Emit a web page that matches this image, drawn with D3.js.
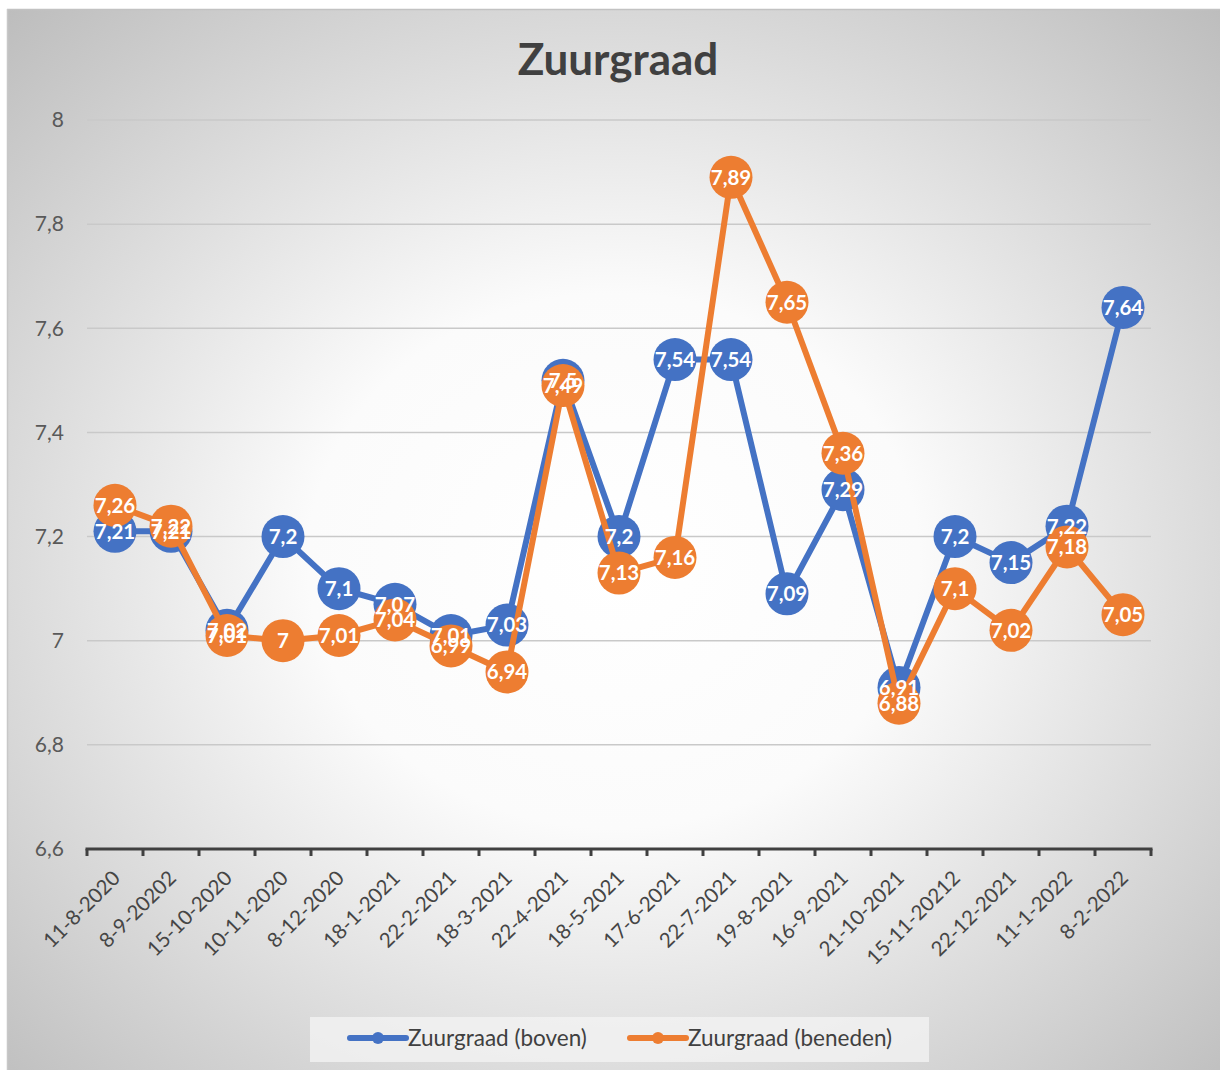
<!DOCTYPE html>
<html><head><meta charset="utf-8">
<script src="https://cdn.jsdelivr.net/npm/d3@7"></script>
<style>body{margin:0;background:#fff}</style>
</head><body><svg id="c" width="1220" height="1070"></svg>
<script>
const title = "Zuurgraad";
const categories = ["11-8-2020","8-9-20202","15-10-2020","10-11-2020","8-12-2020","18-1-2021","22-2-2021","18-3-2021","22-4-2021","18-5-2021","17-6-2021","22-7-2021","19-8-2021","16-9-2021","21-10-2021","15-11-20212","22-12-2021","11-1-2022","8-2-2022"];
const boven   = [7.21,7.21,7.02,7.2,7.1,7.07,7.01,7.03,7.5,7.2,7.54,7.54,7.09,7.29,6.91,7.2,7.15,7.22,7.64];
const beneden = [7.26,7.22,7.01,7,7.01,7.04,6.99,6.94,7.49,7.13,7.16,7.89,7.65,7.36,6.88,7.1,7.02,7.18,7.05];
const seriesNames = ["Zuurgraad (boven)","Zuurgraad (beneden)"];
const seriesColors = ["#4472C4","#ED7D31"];
const yTicks = [6.6,6.8,7,7.2,7.4,7.6,7.8,8];

const fmt = v => String(v).replace(".", ",");
const FONT = "Lato, 'Open Sans', sans-serif";
const svg = d3.select("#c");

// background
const defs = svg.append("defs");
const rg = defs.append("radialGradient").attr("id","bg")
  .attr("cx","50%").attr("cy","52%").attr("r","72%");
rg.append("stop").attr("offset","0%").attr("stop-color","#ffffff");
rg.append("stop").attr("offset","35%").attr("stop-color","#fbfbfb");
rg.append("stop").attr("offset","100%").attr("stop-color","#bdbdbd");
svg.append("rect").attr("x",7).attr("y",9).attr("width",1213).attr("height",1061)
  .attr("fill","url(#bg)");
svg.append("line").attr("x1",7).attr("x2",1220).attr("y1",9.5).attr("y2",9.5)
  .attr("stroke","#c2c2c2").attr("stroke-width",1.5);
svg.append("line").attr("x1",7.5).attr("x2",7.5).attr("y1",9).attr("y2",1070)
  .attr("stroke","#c8c8c8").attr("stroke-width",1.5);

// scales
const x = d3.scaleBand().domain(categories).range([87,1151]);
const y = d3.scaleLinear().domain([6.6,8]).range([849,120]);
const cx = c => x(c) + x.bandwidth()/2;

// title
svg.append("text").attr("x",618).attr("y",75).attr("text-anchor","middle")
  .attr("font-family",FONT).attr("font-weight","bold").attr("font-size",44)
  .attr("fill","#404040").text(title);

// gridlines
svg.append("g").selectAll("line").data(yTicks.filter(t => t > 6.6)).join("line")
  .attr("x1",87).attr("x2",1151).attr("y1",d=>y(d)).attr("y2",d=>y(d))
  .attr("stroke","#c9c9c9").attr("stroke-width",1.5);

// y axis labels
const yAxis = d3.axisLeft(y).tickValues(yTicks).tickFormat(fmt).tickSize(0).tickPadding(0);
const yg = svg.append("g").attr("transform","translate(64,0)").call(yAxis);
yg.select(".domain").remove();
yg.selectAll("text").attr("font-family",FONT).attr("font-size",21).attr("fill","#595959");

// x axis
const xg = svg.append("g");
xg.append("line").attr("x1",85.5).attr("x2",1152.5).attr("y1",y(6.6)).attr("y2",y(6.6))
  .attr("stroke","#404040").attr("stroke-width",3);
const bounds = categories.map(c => x(c)).concat([x.range()[1]]);
xg.selectAll("line.tick").data(bounds).join("line").attr("class","tick")
  .attr("x1",d=>d).attr("x2",d=>d).attr("y1",y(6.6)).attr("y2",y(6.6)+7)
  .attr("stroke","#404040").attr("stroke-width",3);
xg.selectAll("text").data(categories).join("text")
  .attr("transform", c => `translate(${cx(c)-4},${y(6.6)+20}) rotate(-45)`)
  .attr("text-anchor","end").attr("dy","0.72em")
  .attr("font-family",FONT).attr("font-size",20.5).attr("fill","#454545")
  .text(c => c);

// series
const seriesData = [boven, beneden];
const line = d3.line().x((d,i)=>cx(categories[i])).y(d=>y(d));
seriesData.forEach((vals, si) => {
  const g = svg.append("g");
  g.append("path").datum(vals).attr("d",line).attr("fill","none")
    .attr("stroke",seriesColors[si]).attr("stroke-width",6).attr("stroke-linejoin","round");
  g.selectAll("circle").data(vals).join("circle")
    .attr("cx",(d,i)=>cx(categories[i])).attr("cy",d=>y(d)).attr("r",21.5)
    .attr("fill",seriesColors[si]);
});
seriesData.forEach((vals, si) => {
  svg.append("g").selectAll("text").data(vals).join("text")
    .attr("x",(d,i)=>cx(categories[i])).attr("y",d=>y(d)).attr("dy","0.36em")
    .attr("text-anchor","middle").attr("font-family",FONT).attr("font-weight","bold")
    .attr("font-size",20.5).attr("fill","#ffffff").text(fmt);
});

// legend
const lg = svg.append("g");
lg.append("rect").attr("x",310).attr("y",1017).attr("width",619).attr("height",45)
  .attr("fill","#f2f2f2").attr("fill-opacity",0.8);
const legX = [350, 630];
seriesNames.forEach((n, i) => {
  const g = lg.append("g").attr("transform",`translate(${legX[i]},1038)`);
  g.append("line").attr("x1",0).attr("x2",56).attr("y1",0).attr("y2",0)
    .attr("stroke",seriesColors[i]).attr("stroke-width",6).attr("stroke-linecap","round");
  g.append("circle").attr("cx",28).attr("cy",0).attr("r",6).attr("fill",seriesColors[i]);
  g.append("text").attr("x",58).attr("y",0).attr("dy","0.36em")
    .attr("font-family",FONT).attr("font-size",22.5).attr("fill","#404040").text(n);
});
</script>
</body></html>
